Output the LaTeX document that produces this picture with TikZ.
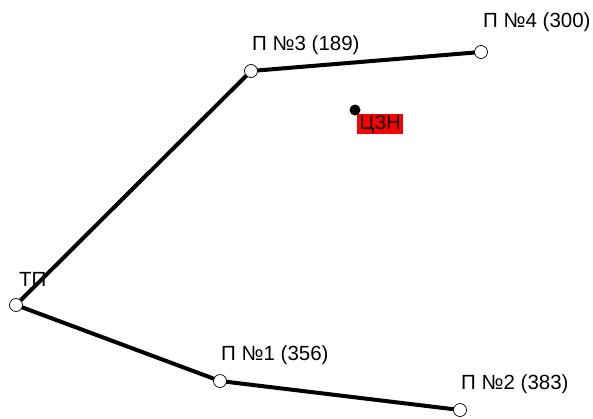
\documentclass[tikz,border=0pt]{standalone}
\usepackage{fontspec}
\setmainfont{Liberation Sans}
\begin{document}
\begin{tikzpicture}[x=1pt,y=-1pt,
  pole/.style={circle,draw=black,fill=white,line width=0.7pt,minimum size=13pt,inner sep=0pt},
  cable/.style={line width=4pt,black},
  lbl/.style={anchor=west,inner sep=0pt,font=\fontsize{20.5}{22}\selectfont},
  center/.style={circle,fill=black,minimum size=11pt,inner sep=0pt},
  redlbl/.style={fill=red,anchor=north west,inner sep=0pt,minimum width=46pt,minimum height=20pt,font=\fontsize{20}{22}\selectfont}]
\useasboundingbox (0,0) rectangle (593,418);
\fill[white] (0,0) rectangle (593,418);
\coordinate (ctp) at (16,305);
\coordinate (c3) at (251,71);
\coordinate (c4) at (481,52);
\coordinate (c1) at (220,381);
\coordinate (c2) at (460,410);
\draw[cable] (ctp) -- (c3);
\draw[cable] (c3) -- (c4);
\draw[cable] (ctp) -- (c1);
\draw[cable] (c1) -- (c2);
\node[pole] (tp) at (ctp) {};
\node[pole] (p3) at (c3) {};
\node[pole] (p4) at (c4) {};
\node[pole] (p1) at (c1) {};
\node[pole] (p2) at (c2) {};
\node[lbl] (ltp) at (19,279) {ТП};
\node[lbl] (l3) at (252,45) {П №3 (189)};
\node[lbl] (l4) at (483,22) {П №4 (300)};
\node[lbl] (l1) at (221,355) {П №1 (356)};
\node[lbl] (l2) at (461,384) {П №2 (383)};
\node[redlbl] (lczn) at (357,114) {ЦЗН};
\node[center] (czn) at (355,110) {};
\end{tikzpicture}
\end{document}
